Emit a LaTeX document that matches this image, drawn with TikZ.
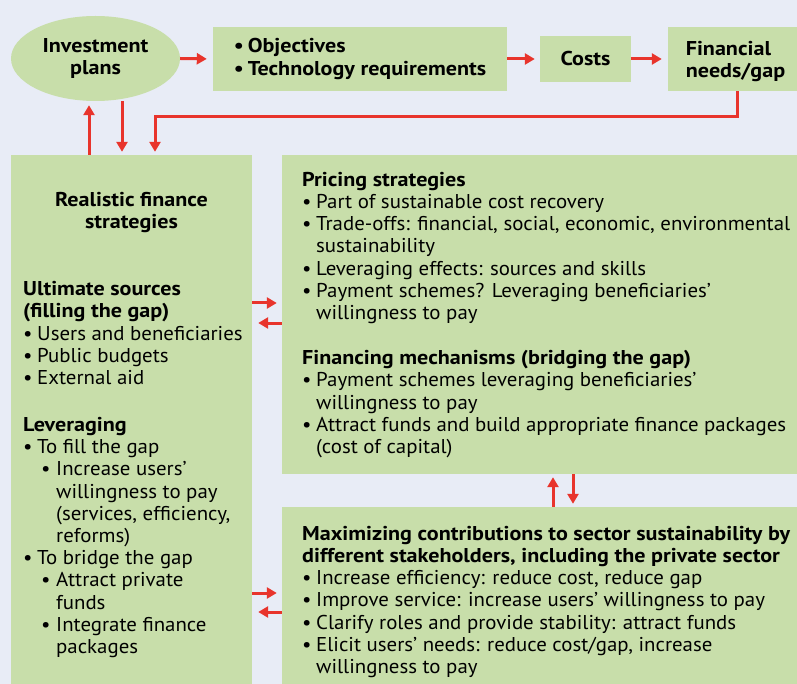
\documentclass[tikz,border=0pt]{standalone}
\usepackage{fontspec}
\setmainfont{PT Sans}[UprightFeatures={FakeStretch=1.043}, BoldFeatures={FakeStretch=1.105}]
\usetikzlibrary{shapes.geometric,arrows.meta}
\definecolor{bgblue}{RGB}{232,236,246}
\definecolor{boxgreen}{RGB}{200,222,170}
\definecolor{arrred}{RGB}{232,52,44}
\newcommand{\bl}{\makebox[14pt][l]{\textbullet}}
\newcommand{\sbl}{\hspace*{18pt}\makebox[15pt][l]{\textbullet}}
\begin{document}
\begin{tikzpicture}[x=1pt, y=-1pt,
    every node/.style={font=\fontsize{20}{22.2}\selectfont},
    bold/.style={font=\fontsize{20}{22.2}\selectfont\bfseries},
    box/.style={fill=boxgreen, draw=none, inner sep=0pt},
    txt/.style={anchor=base west, align=left, inner sep=0pt},
    arr/.style={draw=arrred, line width=3pt, -{Triangle[length=10pt, width=11pt]}}]
    \fill[bgblue] (0,0) rectangle (797,684);
    \useasboundingbox (0,0) rectangle (797,684);
    % top row
    \node[box, ellipse, bold, align=center, minimum width=169pt, minimum height=85pt] (plans) at (95.5,58.5) {Investment\\plans};
    \node[box, bold, align=left, minimum width=294pt, minimum height=64pt] (goals) at (360,59) {\bl Objectives\\\bl Technology requirements};
    \node[box, bold, minimum width=91pt, minimum height=46pt] (costs) at (585.5,59) {Costs};
    \node[box, bold, align=left, minimum width=129pt, minimum height=64pt, text depth=0pt] (needs) at (732.5,59) {\hspace*{6pt}Financial\\\hspace*{6pt}needs/gap};
    % big boxes
    \node[box, minimum width=241pt, minimum height=529pt] (finance) at (131.5,419.5) {};
    \node[box, minimum width=515pt, minimum height=319pt] (pricing) at (539.5,314.5) {};
    \node[box, minimum width=515pt, minimum height=177pt] (sector) at (539.5,595.5) {};
    % texts (anchored at the baseline of their last line)
    \node[txt, bold, anchor=base, align=center] (fintitle) at (131.5,228.5) {Realistic finance\\strategies};
    \node[txt] (fintext) at (23,653.5) {\textbf{Ultimate sources}\\\textbf{(filling the gap)}\\
        \bl Users and beneficiaries\\\bl Public budgets\\\bl External aid\\[24.8pt]
        \textbf{Leveraging}\\\bl To fill the gap\\\sbl Increase users’\\\hspace*{33pt}willingness to pay\\
        \hspace*{33pt}(services, efficiency,\\\hspace*{33pt}reforms)\\\bl To bridge the gap\\
        \sbl Attract private\\\hspace*{33pt}funds\\\sbl Integrate finance\\\hspace*{33pt}packages};
    \node[txt] (pricetext) at (302,453.5) {\textbf{Pricing strategies}\\\bl Part of sustainable cost recovery\\
        \bl Trade-offs: financial, social, economic, environmental\\\hspace*{14pt}sustainability\\
        \bl Leveraging effects: sources and skills\\\bl Payment schemes? Leveraging beneficiaries’\\
        \hspace*{14pt}willingness to pay\\[23pt]
        \textbf{Financing mechanisms (bridging the gap)}\\\bl Payment schemes leveraging beneficiaries’\\
        \hspace*{14pt}willingness to pay\\\bl Attract funds and build appropriate finance packages\\
        \hspace*{14pt}(cost of capital)};
    \node[txt] (sectortext) at (302,673.5) {\textbf{Maximizing contributions to sector sustainability by}\\
        \textbf{different stakeholders, including the private sector}\\
        \bl Increase efficiency: reduce cost, reduce gap\\\bl Improve service: increase users’ willingness to pay\\
        \bl Clarify roles and provide stability: attract funds\\\bl Elicit users’ needs: reduce cost/gap, increase\\
        \hspace*{14pt}willingness to pay};
    % arrows
    \draw[arr, shorten >=6pt] (plans.east) -- (goals.west);
    \draw[arr, shorten >=5pt] (goals) -- (costs);
    \draw[arr, shorten >=6pt] (costs) -- (needs);
    \coordinate (loop) at (155,117);
    \draw[arr, shorten >=3pt] ([xshift=4.5pt]needs.south) |- (loop) -- (finance.north -| loop);
    \draw[arr, shorten >=4pt] ([xshift=-42.5pt]finance.north) -- ([xshift=-6.5pt]plans.south);
    \draw[arr, shorten >=3pt] ([xshift=26.5pt]plans.south) -- ([xshift=-9.5pt]finance.north);
    \draw[arr, shorten >=5pt] ([yshift=116.5pt]finance.east) -- ([yshift=11.5pt]pricing.west);
    \draw[arr, shorten >=6pt] ([yshift=-8.5pt]pricing.west) -- ([yshift=96.5pt]finance.east);
    \draw[arr, shorten >=5pt] ([yshift=-173.5pt]finance.east) -- ([yshift=2.5pt]sector.west);
    \draw[arr, shorten >=6pt] ([yshift=-16.5pt]sector.west) -- ([yshift=-192.5pt]finance.east);
    \draw[arr, shorten >=3pt] ([xshift=13.5pt]sector.north) -- ([xshift=13.5pt]pricing.south);
    \draw[arr, shorten >=3pt] ([xshift=33.5pt]pricing.south) -- ([xshift=33.5pt]sector.north);
\end{tikzpicture}
\end{document}
